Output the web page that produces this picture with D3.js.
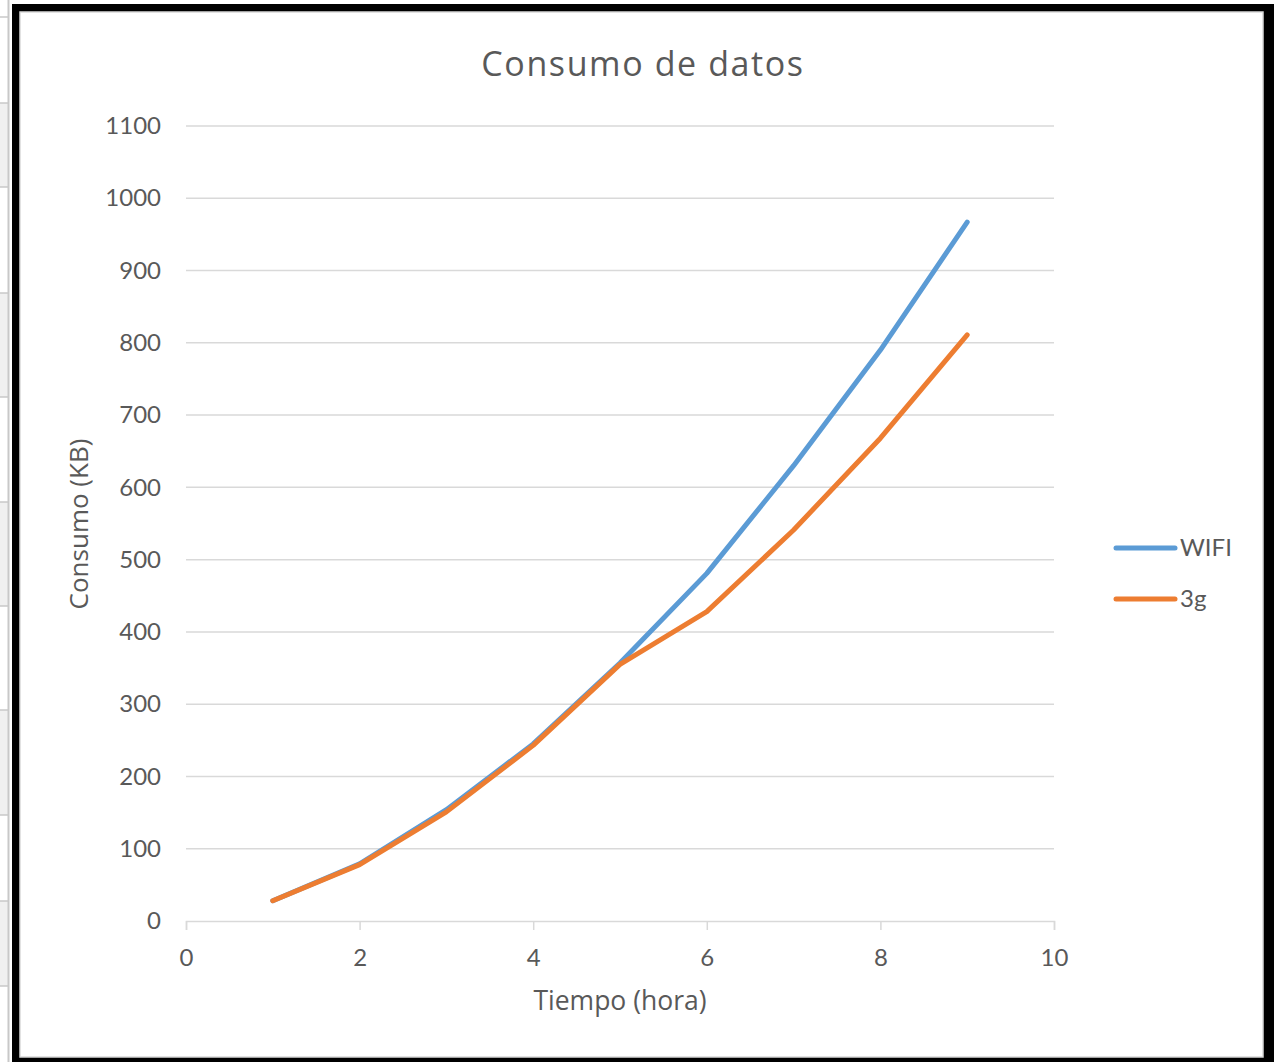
<!DOCTYPE html>
<html>
<head>
<meta charset="utf-8">
<script src="https://cdn.jsdelivr.net/npm/d3@7"></script>
<style>
  html, body { margin: 0; padding: 0; background: #ffffff; }
  svg { display: block; }
</style>
</head>
<body>
<svg id="chart" width="1274" height="1062"></svg>
<script>
// ---- data ----
const hours = [1, 2, 3, 4, 5, 6, 7, 8, 9];
const wifi = [28, 79, 154, 245, 357, 481, 630, 790, 967];
const g3 = [28, 78, 151, 243, 355, 428, 541, 668, 811];
const seriesNames = ["WIFI", "3g"];
const seriesColors = ["#5b9bd5", "#ed7d31"];
const xTicks = [0, 2, 4, 6, 8, 10];
const yTicks = [0, 100, 200, 300, 400, 500, 600, 700, 800, 900, 1000, 1100];
const titleText = "Consumo de datos";
const xTitle = "Tiempo (hora)";
const yTitle = "Consumo (KB)";
// spreadsheet row borders visible to the left of the chart frame
const sheetRows = [17, 103, 187, 293, 397, 502, 606, 710, 815, 901, 986];

const LATO = "Lato, 'Open Sans', sans-serif";
const OPEN = "'Open Sans', Lato, sans-serif";
const TXT = "#595959";

const svg = d3.select("#chart");

// spreadsheet background strip
const strip = svg.append("g");
for (let i = 0; i < sheetRows.length - 1; i++) {
  if (i % 2 === 1) {
    strip.append("rect").attr("x", 0).attr("y", sheetRows[i]).attr("width", 8)
      .attr("height", sheetRows[i + 1] - sheetRows[i]).attr("fill", "#f0f0f0");
  }
}
sheetRows.forEach(y => {
  strip.append("line").attr("x1", 0).attr("x2", 9).attr("y1", y).attr("y2", y)
    .attr("stroke", "#c8c8c8").attr("stroke-width", 1.5);
});
strip.append("line").attr("x1", 8.5).attr("x2", 8.5).attr("y1", 0).attr("y2", 1062)
  .attr("stroke", "#c8c8c8").attr("stroke-width", 2);

// chart frame
svg.append("rect").attr("x", 12).attr("y", 4).attr("width", 1262).attr("height", 1058).attr("fill", "#000");
svg.append("rect").attr("x", 20).attr("y", 12).attr("width", 1243).attr("height", 1045)
  .attr("fill", "#fff").attr("stroke", "#d9d9d9").attr("stroke-width", 1.5);

// scales
const x = d3.scaleLinear().domain([0, 10]).range([186, 1054]);
const y = d3.scaleLinear().domain([0, 1100]).range([921, 126]);

// gridlines
svg.append("g").selectAll("line").data(yTicks.filter(d => d > 0)).join("line")
  .attr("x1", x(0)).attr("x2", x(10))
  .attr("y1", d => y(d)).attr("y2", d => y(d))
  .attr("stroke", "#d9d9d9").attr("stroke-width", 1.5);

// x axis
const xAxis = d3.axisBottom(x).tickValues(xTicks).tickSize(9).tickPadding(19).tickFormat(d3.format("d"));
const gx = svg.append("g").attr("transform", `translate(0,${y(0)})`).call(xAxis);
gx.select(".domain").attr("stroke", "#d9d9d9").attr("stroke-width", 1.5);
gx.selectAll(".tick line").attr("stroke", "#d9d9d9").attr("stroke-width", 1.5);
gx.selectAll(".tick text").style("font-size", "24px").style("fill", TXT).style("font-family", LATO);

// y axis (labels only)
const yAxis = d3.axisLeft(y).tickValues(yTicks).tickSize(0).tickPadding(25).tickFormat(d3.format("d"));
const gy = svg.append("g").attr("transform", `translate(${x(0)},0)`).call(yAxis);
gy.select(".domain").remove();
gy.selectAll(".tick text").style("font-size", "24px").style("fill", TXT).style("font-family", LATO);

// lines
const line = d3.line().x((d, i) => x(hours[i])).y(d => y(d));
[wifi, g3].forEach((vals, k) => {
  svg.append("path").datum(vals).attr("d", line)
    .attr("fill", "none").attr("stroke", seriesColors[k]).attr("stroke-width", 5)
    .attr("stroke-linecap", "round").attr("stroke-linejoin", "round");
});

// title
svg.append("text").attr("x", 643).attr("y", 76).attr("text-anchor", "middle")
  .style("font-family", OPEN).style("font-size", "34px").style("letter-spacing", "1.6px")
  .style("fill", TXT).text(titleText);

// axis titles
svg.append("text").attr("x", 620).attr("y", 1010).attr("text-anchor", "middle")
  .style("font-family", OPEN).style("font-size", "26.5px").style("fill", TXT).text(xTitle);
svg.append("text").attr("transform", "translate(88,524) rotate(-90)").attr("text-anchor", "middle")
  .style("font-family", OPEN).style("font-size", "26px").style("fill", TXT).text(yTitle);

// legend
const legendY = [548, 599];
seriesNames.forEach((name, k) => {
  svg.append("line").attr("x1", 1116).attr("x2", 1175).attr("y1", legendY[k]).attr("y2", legendY[k])
    .attr("stroke", seriesColors[k]).attr("stroke-width", 5).attr("stroke-linecap", "round");
  svg.append("text").attr("x", 1180).attr("y", legendY[k]).attr("dy", "0.35em")
    .style("font-family", LATO).style("font-size", "24px").style("fill", TXT).text(name);
});
</script>
</body>
</html>
